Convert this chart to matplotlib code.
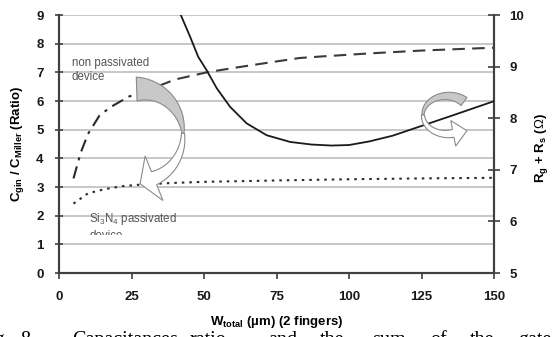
import numpy as np
import matplotlib
matplotlib.use("Agg")
import matplotlib.pyplot as plt
from matplotlib.patches import Polygon, Rectangle

plt.rcParams["font.family"] = ["Liberation Sans", "DejaVu Sans"]
plt.rcParams["mathtext.fontset"] = "custom"
plt.rcParams["mathtext.rm"] = "Liberation Sans"
plt.rcParams["mathtext.it"] = "Liberation Sans"
plt.rcParams["mathtext.bf"] = "Liberation Sans:bold"

# non passivated device: Cgin / CMiller ratio
W_NP = [5, 7.5, 10, 14, 18, 24, 28, 35, 40, 51, 60, 73, 83, 90, 107, 125, 150]
C_NP = [3.3, 4.2, 4.85, 5.5, 5.8, 6.15, 6.3, 6.55, 6.75, 7.0, 7.15, 7.35, 7.5, 7.55, 7.66, 7.76, 7.86]

# Si3N4 passivated device
W_P = [5, 10, 16, 22, 29, 39, 50, 76, 100, 125, 150]
C_P = [2.42, 2.78, 2.93, 3.03, 3.09, 3.14, 3.18, 3.23, 3.27, 3.3, 3.32]

# Rg + Rs (ohm), right axis
W_R = [42, 45.2, 48, 50.9, 54.4, 59, 64.7, 71.6, 79.7, 87, 94, 100, 107, 115, 125, 135, 150]
R_GS = [10.0, 9.58, 9.19, 8.93, 8.58, 8.22, 7.90, 7.67, 7.54, 7.49, 7.47, 7.48, 7.55, 7.66,
        7.85, 8.04, 8.33]

X_TICKS = [0, 25, 50, 75, 100, 125, 150]
LEFT_TICKS = list(range(0, 10))
RIGHT_TICKS = list(range(5, 11))

CAPTION_WORDS = ["Fig.", "8.", "Capacitances", "ratio", "and", "the", "sum", "of", "the", "gate"]
CAPTION_X = [-22, 20, 72, 190, 268, 320, 372, 430, 470, 518]

FW, FH = 555, 337
SPINE = "#404040"


def px(x, y):
    return (x / FW, 1 - y / FH)


def arc_pts(cx, cy, rx, ry, thetas):
    t = np.radians(thetas)
    return np.column_stack([cx + rx * np.cos(t), cy - ry * np.sin(t)])


def normals(pts):
    d = np.gradient(pts, axis=0)
    d = d / np.linalg.norm(d, axis=1)[:, None]
    return d, np.column_stack([-d[:, 1], d[:, 0]])


def band(cx, cy, rx, ry, a0, a1, w0, w1, n=40):
    th = np.linspace(a0, a1, n)
    p = arc_pts(cx, cy, rx, ry, th)
    _, nr = normals(p)
    w = np.linspace(w0, w1, n)[:, None]
    return np.vstack([p + w * nr, (p - w * nr)[::-1]])


def arrow(cx, cy, rx, ry, a0, a1, w0, w1, head_w, head_l, n=40):
    th = np.linspace(a0, a1, n)
    p = arc_pts(cx, cy, rx, ry, th)
    d, nr = normals(p)
    w = np.linspace(w0, w1, n)[:, None]
    b, t, nn = p[-1], d[-1], nr[-1]
    head = [b + head_w * nn, b + head_l * t, b - head_w * nn]
    return np.vstack([p + w * nr, head, (p - w * nr)[::-1]])


def add_shape(fig, pts, fc, z):
    xy = [px(x, y) for x, y in pts]
    fig.patches.append(Polygon(xy, closed=True, transform=fig.transFigure,
                               facecolor=fc, edgecolor="#8a8a8a", lw=0.8, zorder=z))


fig = plt.figure(figsize=(5.55, 3.37), dpi=100)
ax = fig.add_axes([59 / FW, 1 - 273 / FH, 435 / FW, 258 / FH])
ax2 = ax.twinx()

ax.set_xlim(0, 150)
ax.set_ylim(0, 9)
ax2.set_ylim(5, 10)

# horizontal grid
for v in LEFT_TICKS[1:]:
    ax.axhline(v, color="#b8b8b8", lw=1.1, zorder=1)

# dash-dot start then dashed for the non passivated curve
k = W_NP.index(28)
ax.plot(W_NP[:k + 1], C_NP[:k + 1], color="#2a2a2a", lw=1.5, dashes=(6, 3, 1.5, 3), zorder=3)
ax.plot(W_NP[k:], C_NP[k:], color="#3a3a3a", lw=1.5, dashes=(6, 3.5), zorder=3)
ax.plot(W_P, C_P, color="#2a2a2a", lw=1.5, dashes=(1.2, 2.4), zorder=3)
ax2.plot(W_R, R_GS, color="#1a1a1a", lw=1.3, zorder=4)

for a in (ax, ax2):
    a.spines["top"].set_visible(False)
    for s in ("left", "right", "bottom"):
        a.spines[s].set_color(SPINE)
        a.spines[s].set_linewidth(1.5)
ax2.patch.set_visible(False)

ax.set_xticks(X_TICKS)
ax.set_yticks(LEFT_TICKS)
ax2.set_yticks(RIGHT_TICKS)
ax.tick_params(axis="x", direction="out", length=4, width=1.2, color=SPINE, pad=9,
               labelsize=9.5)
ax.tick_params(axis="y", direction="inout", length=6, width=1.2, color=SPINE, pad=8,
               labelsize=9.5)
ax2.tick_params(axis="y", direction="inout", length=8, width=1.2, color=SPINE, pad=7,
                labelsize=9.5)
for lab in ax.get_xticklabels() + ax.get_yticklabels() + ax2.get_yticklabels():
    lab.set_fontweight("bold")
    lab.set_color("#1a1a1a")

fig.text(18 / FW, 1 - 144 / FH, r"C$_{\mathbf{gin}}$ / C$_{\mathbf{Miller}}$ (Ratio)",
         rotation=90, ha="center", va="center", fontsize=9.5, fontweight="bold")
fig.text(541 / FW, 1 - 148 / FH, r"R$_{\mathbf{g}}$ + R$_{\mathbf{s}}$ ($\Omega$)",
         rotation=90, ha="center", va="center", fontsize=9.5, fontweight="bold")
fig.text(277 / FW, 1 - 322 / FH, r"W$_{\mathbf{total}}$ (µm) (2 fingers)",
         ha="center", va="center", fontsize=9.5, fontweight="bold")

fig.text(72 / FW, 1 - 57 / FH, "non passivated\ndevice", ha="left", va="top",
         fontsize=8.3, color="#555555", linespacing=1.25)
t = fig.text(89 / FW, 1 - 211 / FH, "Si$_3$N$_4$ passivated\ndevice", ha="left", va="top",
             fontsize=8.3, color="#555555", linespacing=1.35)
t.set_clip_path(Rectangle(px(0, 235), 1, 1, transform=fig.transFigure))

# curved arrows (gray back face + white head)
add_shape(fig, band(139, 135, 44, 46, 93, 2, 12, 1), "#c8c8c8", 6)
add_shape(fig, arrow(139, 135, 44, 46, 2, -70, 1.5, 7, 24, 15), "white", 6)
add_shape(fig, band(447, 115, 24, 19, 45, 180, 5, 1), "#c8c8c8", 1)
add_shape(fig, arrow(447, 115, 24, 19, 180, 285, 1.5, 4, 13, 14), "white", 1)

for word, x in zip(CAPTION_WORDS, CAPTION_X):
    fig.text(x / FW, 1 - 345 / FH, word, ha="left", va="baseline", fontsize=14.5,
             family="Liberation Serif")

fig.savefig("out.png", dpi=100)
